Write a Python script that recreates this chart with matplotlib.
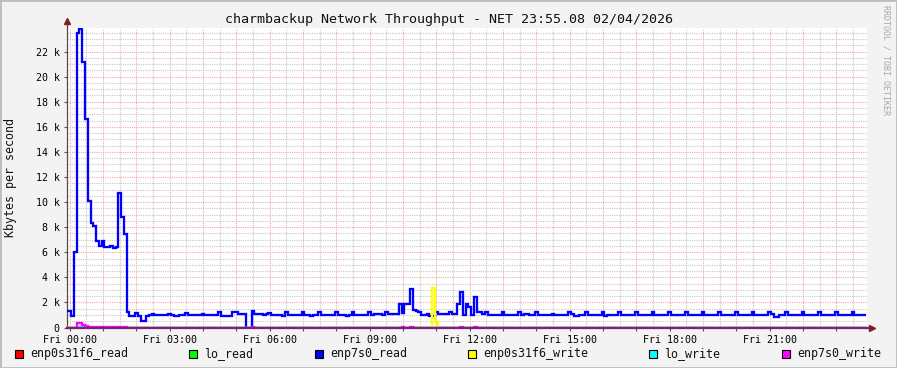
import numpy as np
import matplotlib.pyplot as plt
from matplotlib.patches import Rectangle
from matplotlib.ticker import MultipleLocator, FuncFormatter

# 5 minute samples, first one is the partial Thu 23:55 slot (values in Kbytes/s / 1000)
enp7s0_read = [
    1.3, 1.3, 0.9, 6.05, 23.45, 23.8, 21.2, 16.6, 10.1, 8.3, 8.1, 6.9,
    6.5, 6.9, 6.4, 6.4, 6.5, 6.3, 6.4, 10.7, 8.8, 7.45, 1.2, 0.9,
    0.9, 1.15, 0.9, 0.55, 0.55, 0.9, 1.0, 1.1, 1.0, 1.0, 1.0, 1.0,
    1.0, 1.1, 1.0, 0.95, 0.95, 1.0, 1.0, 1.15, 1.0, 1.0, 1.0, 1.0,
    1.0, 1.1, 1.0, 1.0, 1.0, 1.0, 1.0, 1.2, 0.95, 0.95, 0.95, 0.95,
    1.2, 1.2, 1.1, 1.05, 1.05, 0.0, 0.0, 1.3, 1.05, 1.05, 1.05, 1.0,
    1.05, 1.15, 1.0, 1.0, 1.0, 1.0, 0.95, 1.2, 1.0, 1.0, 1.0, 1.0,
    1.0, 1.2, 1.0, 1.0, 0.95, 1.0, 1.0, 1.2, 1.0, 1.0, 1.0, 1.0,
    1.0, 1.2, 1.0, 1.0, 1.0, 0.95, 1.0, 1.2, 1.0, 1.0, 1.0, 1.0,
    1.0, 1.2, 1.0, 1.05, 1.05, 1.05, 1.0, 1.25, 1.05, 1.05, 1.1, 1.1,
    1.85, 1.15, 1.85, 1.85, 3.05, 1.4, 1.3, 1.2, 1.0, 1.0, 1.05, 0.95,
    0.9, 1.2, 1.05, 1.05, 1.05, 1.05, 1.2, 1.1, 1.1, 1.9, 2.85, 1.0,
    1.9, 1.65, 1.0, 2.4, 1.2, 1.2, 1.05, 1.2, 1.0, 1.0, 1.0, 1.0,
    1.0, 1.2, 1.0, 1.0, 1.0, 1.0, 1.0, 1.2, 1.0, 1.05, 1.1, 1.0,
    1.0, 1.2, 1.0, 1.0, 1.0, 1.0, 1.0, 1.05, 1.0, 1.0, 1.0, 1.0,
    1.0, 1.2, 1.05, 0.9, 0.9, 1.0, 1.0, 1.2, 1.0, 1.0, 1.0, 1.0,
    1.0, 1.2, 0.95, 1.0, 1.0, 1.0, 1.0, 1.2, 1.0, 1.0, 1.0, 1.0,
    1.0, 1.2, 1.0, 1.0, 1.0, 1.0, 1.0, 1.2, 1.0, 1.0, 1.0, 1.0,
    1.0, 1.2, 1.0, 1.0, 1.0, 1.0, 1.0, 1.2, 1.0, 1.0, 1.0, 1.0,
    1.0, 1.2, 1.0, 1.0, 1.0, 1.0, 1.0, 1.2, 1.0, 1.0, 1.0, 1.0,
    1.0, 1.2, 1.0, 1.0, 1.0, 1.0, 1.0, 1.2, 1.0, 1.0, 1.0, 1.0,
    1.0, 1.2, 1.05, 0.85, 0.85, 1.0, 1.0, 1.2, 1.0, 1.0, 1.0, 1.0,
    1.0, 1.2, 1.0, 1.0, 1.0, 1.0, 1.0, 1.2, 1.0, 1.0, 1.0, 1.0,
    1.0, 1.2, 1.0, 1.0, 1.0, 1.0, 1.0, 1.2, 1.0, 1.0, 1.0, 1.0,
]
n = len(enp7s0_read)

# sparse series: sample index -> value, everything else is 0
enp7s0_write_idx = [4, 5, 6, 7, 8, 9, 10, 11, 12, 13, 14, 15, 16, 17, 18, 19, 20, 21, 67, 121, 124, 142, 147]
enp7s0_write_val = [0.33, 0.33, 0.22, 0.12, 0.06, 0.03, 0.03, 0.03, 0.03, 0.03, 0.03, 0.03, 0.03,
                    0.03, 0.03, 0.03, 0.03, 0.03, 0.05, 0.05, 0.05, 0.05, 0.05]
enp0s31f6_write_idx = [132, 133]
enp0s31f6_write_val = [3.15, 0.46]
lo_write_idx = [5, 6]
lo_write_val = [0.02, 0.02]

names = ['enp0s31f6_read', 'lo_read', 'enp7s0_read', 'enp0s31f6_write', 'lo_write', 'enp7s0_write']
colors = ['#ff0000', '#00ff00', '#0000ff', '#ffff00', '#00ffff', '#ff00ff']


def sparse(idx, val):
    a = np.zeros(n)
    a[idx] = val
    return a


series = [np.zeros(n), np.zeros(n), np.array(enp7s0_read),
          sparse(enp0s31f6_write_idx, enp0s31f6_write_val),
          sparse(lo_write_idx, lo_write_val),
          sparse(enp7s0_write_idx, enp7s0_write_val)]

edges = (np.arange(n + 1) * 5 - 7.5) / 60.0   # hours
x0 = -4.92 / 60.0

mono = 'DejaVu Sans Mono'
fig = plt.figure(figsize=(8.97, 3.68), dpi=100, facecolor='#f3f3f3')
ax = fig.add_axes([67 / 897, 1 - 327.5 / 368, 800 / 897, 299.2 / 368])
ax.set_facecolor('white')

for vals, c in zip(series, colors):
    ax.stairs(vals, edges, baseline=None, color=c, lw=1.65, zorder=3)

ax.set_xlim(x0, 24 + x0)
ax.set_ylim(0, 23.85)

ax.xaxis.set_major_locator(MultipleLocator(1))
ax.xaxis.set_minor_locator(MultipleLocator(0.5))
ax.xaxis.set_major_formatter(FuncFormatter(lambda v, p: 'Fri %02d:00' % round(v) if round(v) % 3 == 0 else ''))
ax.yaxis.set_major_locator(MultipleLocator(2))
ax.yaxis.set_minor_locator(MultipleLocator(0.5))
ax.yaxis.set_major_formatter(FuncFormatter(lambda v, p: '0' if v == 0 else '%d k' % round(v)))

ax.grid(which='major', color='#f2a8a8', ls=(0, (1, 1)), lw=0.8, zorder=1)
ax.grid(which='minor', color='#c8c8c8', ls=(0, (1, 1)), lw=0.8, zorder=1)
ax.tick_params(which='major', length=2.2, width=0.8, color='#555555', labelsize=7.2, pad=3)
ax.tick_params(which='minor', length=0)
for lab in ax.get_xticklabels() + ax.get_yticklabels():
    lab.set_family(mono)

for s in ['top', 'right']:
    ax.spines[s].set_visible(False)
ax.spines['left'].set_color('#5a4848')
ax.spines['left'].set_linewidth(0.9)
ax.spines['bottom'].set_color('#7a1f7a')
ax.spines['bottom'].set_linewidth(1.6)
ax.spines['bottom'].set_zorder(5)

# axis arrows
ax.plot([0, 0], [1, 1.02], transform=ax.transAxes, color='#5a4848', lw=0.9, clip_on=False)
ax.plot([0], [1.025], transform=ax.transAxes, marker='^', ms=5, color='#7f1f1f', clip_on=False)
ax.plot([1.0, 1.004], [0, 0], transform=ax.transAxes, color='#7a1f7a', lw=1.6, clip_on=False)
ax.plot([1.006], [0], transform=ax.transAxes, marker='>', ms=5, color='#7f1f1f', clip_on=False)

fig.text(0.5, 1 - 19 / 368, 'charmbackup Network Throughput - NET 23:55.08 02/04/2026',
         ha='center', va='center', family=mono, fontsize=9.6, color='#111111')
fig.text(11 / 897, 1 - 177.5 / 368, 'Kbytes per second', rotation=90,
         ha='center', va='center', family=mono, fontsize=8.4, color='#111111')
fig.text(886 / 897, 1 - 60 / 368, 'RRDTOOL / TOBI OETIKER', rotation=270,
         ha='center', va='center', family=mono, fontsize=6, color='#a8a8a8')

# legend
box_x = [15, 189, 315, 468, 649, 782]
for bx, name, c in zip(box_x, names, colors):
    fig.patches.append(Rectangle((bx / 897, 1 - 358 / 368), 8 / 897, 8 / 368,
                                 transform=fig.transFigure, facecolor=c, edgecolor='black', lw=0.8))
    fig.text((bx + 15) / 897, 1 - 354 / 368, name, ha='left', va='center',
             family=mono, fontsize=8.4, color='#111111')

# frame shading
fig.patches.append(Rectangle((0, 0), 1, 1, transform=fig.transFigure, fill=False,
                             edgecolor='#bdbdbd', lw=2))

fig.savefig('out.png', dpi=100, facecolor=fig.get_facecolor())
